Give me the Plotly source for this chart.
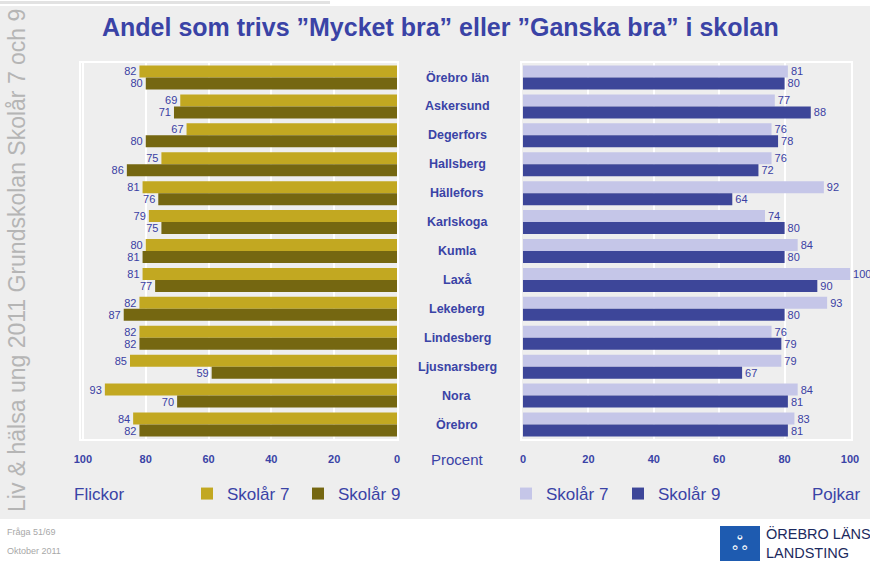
import plotly.graph_objects as go

categories = ["Örebro län", "Askersund", "Degerfors", "Hallsberg", "Hällefors", "Karlskoga",
              "Kumla", "Laxå", "Lekeberg", "Lindesberg", "Ljusnarsberg", "Nora", "Örebro"]
girls_7 = [82, 69, 67, 75, 81, 79, 80, 81, 82, 82, 85, 93, 84]
girls_9 = [80, 71, 80, 86, 76, 75, 81, 77, 87, 82, 59, 70, 82]
boys_7 = [81, 77, 76, 76, 92, 74, 84, 100, 93, 76, 79, 84, 83]
boys_9 = [80, 88, 78, 72, 64, 80, 80, 90, 80, 79, 67, 81, 81]
tick_vals = [0, 20, 40, 60, 80, 100]

W, H = 870, 561
def px(x):
    return x / W
def py(y):
    return 1 - y / H

BLUE = "#3A43A6"
LBL = "#3A40A3"
FONT = "Liberation Sans, Arial, sans-serif"
C_G7, C_G9, C_B7, C_B9 = "#C2A821", "#756711", "#C5C6E8", "#3D4699"

fig = go.Figure()

def bar(vals, name, color, xa, ya, legend):
    return go.Bar(
        y=categories, x=vals, orientation="h", name=name,
        marker=dict(color=color, line=dict(width=0)),
        text=vals, textposition="outside", cliponaxis=False,
        textfont=dict(family=FONT, size=11, color=LBL),
        xaxis=xa, yaxis=ya, legend=legend, hoverinfo="x+y+name",
    )

fig.add_trace(bar(girls_7, "Skolår 7", C_G7, "x", "y", "legend"))
fig.add_trace(bar(girls_9, "Skolår 9", C_G9, "x", "y", "legend2"))
fig.add_trace(bar(boys_7, "Skolår 7", C_B7, "x2", "y2", "legend3"))
fig.add_trace(bar(boys_9, "Skolår 9", C_B9, "x2", "y2", "legend4"))

ydom = [py(439), py(63)]
xcommon = dict(
    tickvals=tick_vals, showgrid=True, gridcolor="white", gridwidth=1.5,
    zeroline=False, showline=True, linecolor="white", linewidth=2, mirror=True,
    ticks="outside", ticklen=9, tickcolor="rgba(0,0,0,0)",
    tickfont=dict(family=FONT, size=11, color=BLUE, weight="bold"),
    fixedrange=True, automargin=False,
)
ycommon = dict(
    categoryorder="array", categoryarray=categories, autorange="reversed",
    showticklabels=False, showgrid=False, zeroline=False,
    showline=True, linecolor="white", linewidth=2, mirror=True, domain=ydom,
    fixedrange=True, automargin=False,
)

leg = dict(orientation="h", yanchor="middle", xanchor="left", bgcolor="rgba(0,0,0,0)",
           font=dict(family=FONT, size=17, color=BLUE), y=py(494), itemwidth=30)

fig.update_layout(
    width=W, height=H, autosize=False,
    margin=dict(l=0, r=0, t=0, b=0, pad=0, autoexpand=False),
    paper_bgcolor="white", plot_bgcolor="#EEEEEE",
    barmode="group", bargap=0.17, bargroupgap=0,
    xaxis=dict(domain=[px(81), px(397)], range=[100.6, 0], anchor="y", **xcommon),
    yaxis=dict(anchor="x", **ycommon),
    xaxis2=dict(domain=[px(522), px(851)], range=[-0.3, 100.3], anchor="y2", **xcommon),
    yaxis2=dict(anchor="x2", **ycommon),
    legend=dict(x=px(187), **leg),
    legend2=dict(x=px(298), **leg),
    legend3=dict(x=px(506), **leg),
    legend4=dict(x=px(618), **leg),
    showlegend=True,
)

shapes = [
    dict(type="rect", xref="paper", yref="paper", x0=0, x1=1, y0=py(519), y1=py(6),
         fillcolor="#EEEEEE", line=dict(width=0), layer="below"),
    dict(type="rect", xref="paper", yref="paper", x0=0, x1=px(330), y0=py(4), y1=py(1),
         fillcolor="#E2E2E2", line=dict(width=0), layer="below"),
    dict(type="rect", xref="paper", yref="paper", x0=px(720), x1=px(760), y0=py(561), y1=py(526),
         fillcolor="#1E5BB0", line=dict(width=0)),
]
fig.update_layout(shapes=shapes)

ann = []
ann.append(dict(text="Andel som trivs ”Mycket bra” eller ”Ganska bra” i skolan",
                x=px(440), y=py(27), xref="paper", yref="paper", showarrow=False,
                xanchor="center", yanchor="middle",
                font=dict(family=FONT, size=25, color=BLUE, weight="bold")))
for c in categories:
    ann.append(dict(text=c, x=px(457), y=c, xref="paper", yref="y", showarrow=False,
                    xanchor="center", yanchor="middle",
                    font=dict(family=FONT, size=12.5, color=BLUE, weight="bold")))
ann.append(dict(text="Procent", x=px(457), y=py(459), xref="paper", yref="paper", showarrow=False,
                xanchor="center", yanchor="middle", font=dict(family=FONT, size=15, color=BLUE)))
ann.append(dict(text="Flickor", x=px(72), y=py(494), xref="paper", yref="paper", showarrow=False,
                xanchor="left", yanchor="middle", font=dict(family=FONT, size=17, color=BLUE)))
ann.append(dict(text="Pojkar", x=px(863), y=py(494), xref="paper", yref="paper", showarrow=False,
                xanchor="right", yanchor="middle", font=dict(family=FONT, size=17, color=BLUE)))
ann.append(dict(text="Liv & hälsa ung 2011 Grundskolan Skolår 7 och 9", textangle=-90,
                x=px(17), y=py(261), xref="paper", yref="paper", showarrow=False,
                xanchor="center", yanchor="middle", font=dict(family=FONT, size=23, color="#B5B5B5")))
ann.append(dict(text="Fråga 51/69", x=px(5), y=py(532), xref="paper", yref="paper", showarrow=False,
                xanchor="left", yanchor="middle", font=dict(family=FONT, size=9, color="#A8A8A8")))
ann.append(dict(text="Oktober 2011", x=px(5), y=py(551), xref="paper", yref="paper", showarrow=False,
                xanchor="left", yanchor="middle", font=dict(family=FONT, size=9, color="#A8A8A8")))
ann.append(dict(text="ÖREBRO LÄNS<br>LANDSTING", x=px(764), y=py(543), xref="paper", yref="paper",
                showarrow=False, xanchor="left", yanchor="middle", align="left",
                font=dict(family=FONT, size=14.5, color="#1C2A5E")))
ann.append(dict(text="ஃ", x=px(740), y=py(543), xref="paper", yref="paper", showarrow=False,
                xanchor="center", yanchor="middle", font=dict(family=FONT, size=20, color="white")))
fig.update_layout(annotations=ann)

fig.write_html("out.html", config={"displayModeBar": False},
               post_script="document.body.style.margin='0';document.body.style.overflow='hidden';")
